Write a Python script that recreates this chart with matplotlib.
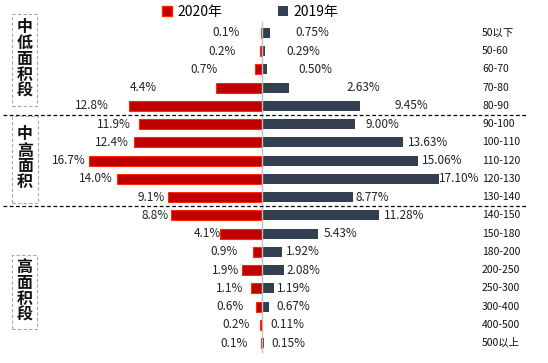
import matplotlib
matplotlib.use("Agg")
import numpy as np
import matplotlib.pyplot as plt
from matplotlib.patches import Rectangle, Patch

plt.rcParams['font.family'] = ['Noto Sans CJK SC', 'DejaVu Sans']

categories = ["50以下", "50-60", "60-70", "70-80", "80-90",
              "90-100", "100-110", "110-120", "120-130", "130-140",
              "140-150", "150-180", "180-200", "200-250", "250-300",
              "300-400", "400-500", "500以上"]
share_2020 = [0.1, 0.2, 0.7, 4.4, 12.8,
              11.9, 12.4, 16.7, 14.0, 9.1,
              8.8, 4.1, 0.9, 1.9, 1.1,
              0.6, 0.2, 0.1]
share_2019 = [0.75, 0.29, 0.50, 2.63, 9.45,
              9.00, 13.63, 15.06, 17.10, 8.77,
              11.28, 5.43, 1.92, 2.08, 1.19,
              0.67, 0.11, 0.15]
groups = ["中低面积段", "中高面积", "高面积段"]

# where the data labels sit (gap from bar end, in % units) - hand placed in the original
gap_2020 = [2.0, 2.3, 3.6, 5.7, 2.0, 0.8, 0.5, 0.3, 0.4, 0.3,
            0.2, -0.1, 1.5, 0.3, 0.7, 1.2, 1.0, 1.3]
gap_2019 = [2.5, 2.1, 3.0, 5.5, 3.3, 1.0, 0.5, 0.4, 0.0, 0.3,
            0.5, 0.5, 0.4, 0.3, 0.26, 0.7, 0.66, 0.8]

W, H = 548, 363
fig = plt.figure(figsize=(W / 100, H / 100), dpi=100)
ax = fig.add_axes([0, 0, 1, 1])

def px(x, y):
    return x / W, 1 - y / H

rows = np.arange(len(categories))
ax.barh(rows, -np.array(share_2020), height=0.55, color='#C00000',
        edgecolor='#FF2A00', linewidth=0.8, label='2020年')
ax.barh(rows, share_2019, height=0.55, color='#333F50', label='2019年')

for i in rows:
    ax.text(-share_2020[i] - gap_2020[i], i, f"{share_2020[i]:.1f}%",
            ha='right', va='center', fontsize=8.5, color='#222222')
    ax.text(share_2019[i] + gap_2019[i], i, f"{share_2019[i]:.2f}%",
            ha='left', va='center', fontsize=8.5, color='#222222')
    ax.text(21.24, i, categories[i], ha='left', va='center',
            fontsize=7.5, color='#111111')

ax.set_xlim(-262 / 10.36, (W - 262) / 10.36)
ax.set_ylim((H - 33) / 18.24, -33 / 18.24)
ax.axis('off')

# centre axis line
ax.plot([0, 0], [-0.6, 17.5], color='#BFBFBF', lw=1)

# group separators
for yy in [4.5, 9.5]:
    ax.plot([-25.0, 25.6], [yy, yy], color='black', lw=0.9, ls=(0, (3, 2)))

# dashed group boxes with vertical titles, one character per line
boxes = [(12, 14, 25, 92), (12, 116, 26, 87), (12, 255, 25, 74)]
step = 16
for (bx, by, bw, bh), name in zip(boxes, groups):
    x0, y0 = px(bx, by + bh)
    fig.patches.append(Rectangle((x0, y0), bw / W, bh / H, transform=fig.transFigure,
                                 fill=False, edgecolor='#A6A6A6', lw=0.8,
                                 ls=(0, (3, 2))))
    mid = by + bh / 2 - 1
    first = mid - step * (len(name) - 1) / 2
    for k, ch in enumerate(name):
        cx, cy = px(bx + bw / 2, first + k * step)
        fig.text(cx, cy, ch, ha='center', va='center', fontsize=11.5,
                 fontweight='bold', color='#111111')

handles = [Patch(facecolor='#C00000', edgecolor='#FF2A00', label='2020年'),
           Patch(facecolor='#333F50', label='2019年')]
ax.legend(handles=handles, loc='center', bbox_to_anchor=px(250, 12), ncol=2,
          frameon=False, fontsize=10, handlelength=0.7, handleheight=0.7,
          handletextpad=0.4, columnspacing=4.0, borderpad=0)

fig.savefig("out.png", dpi=100)
